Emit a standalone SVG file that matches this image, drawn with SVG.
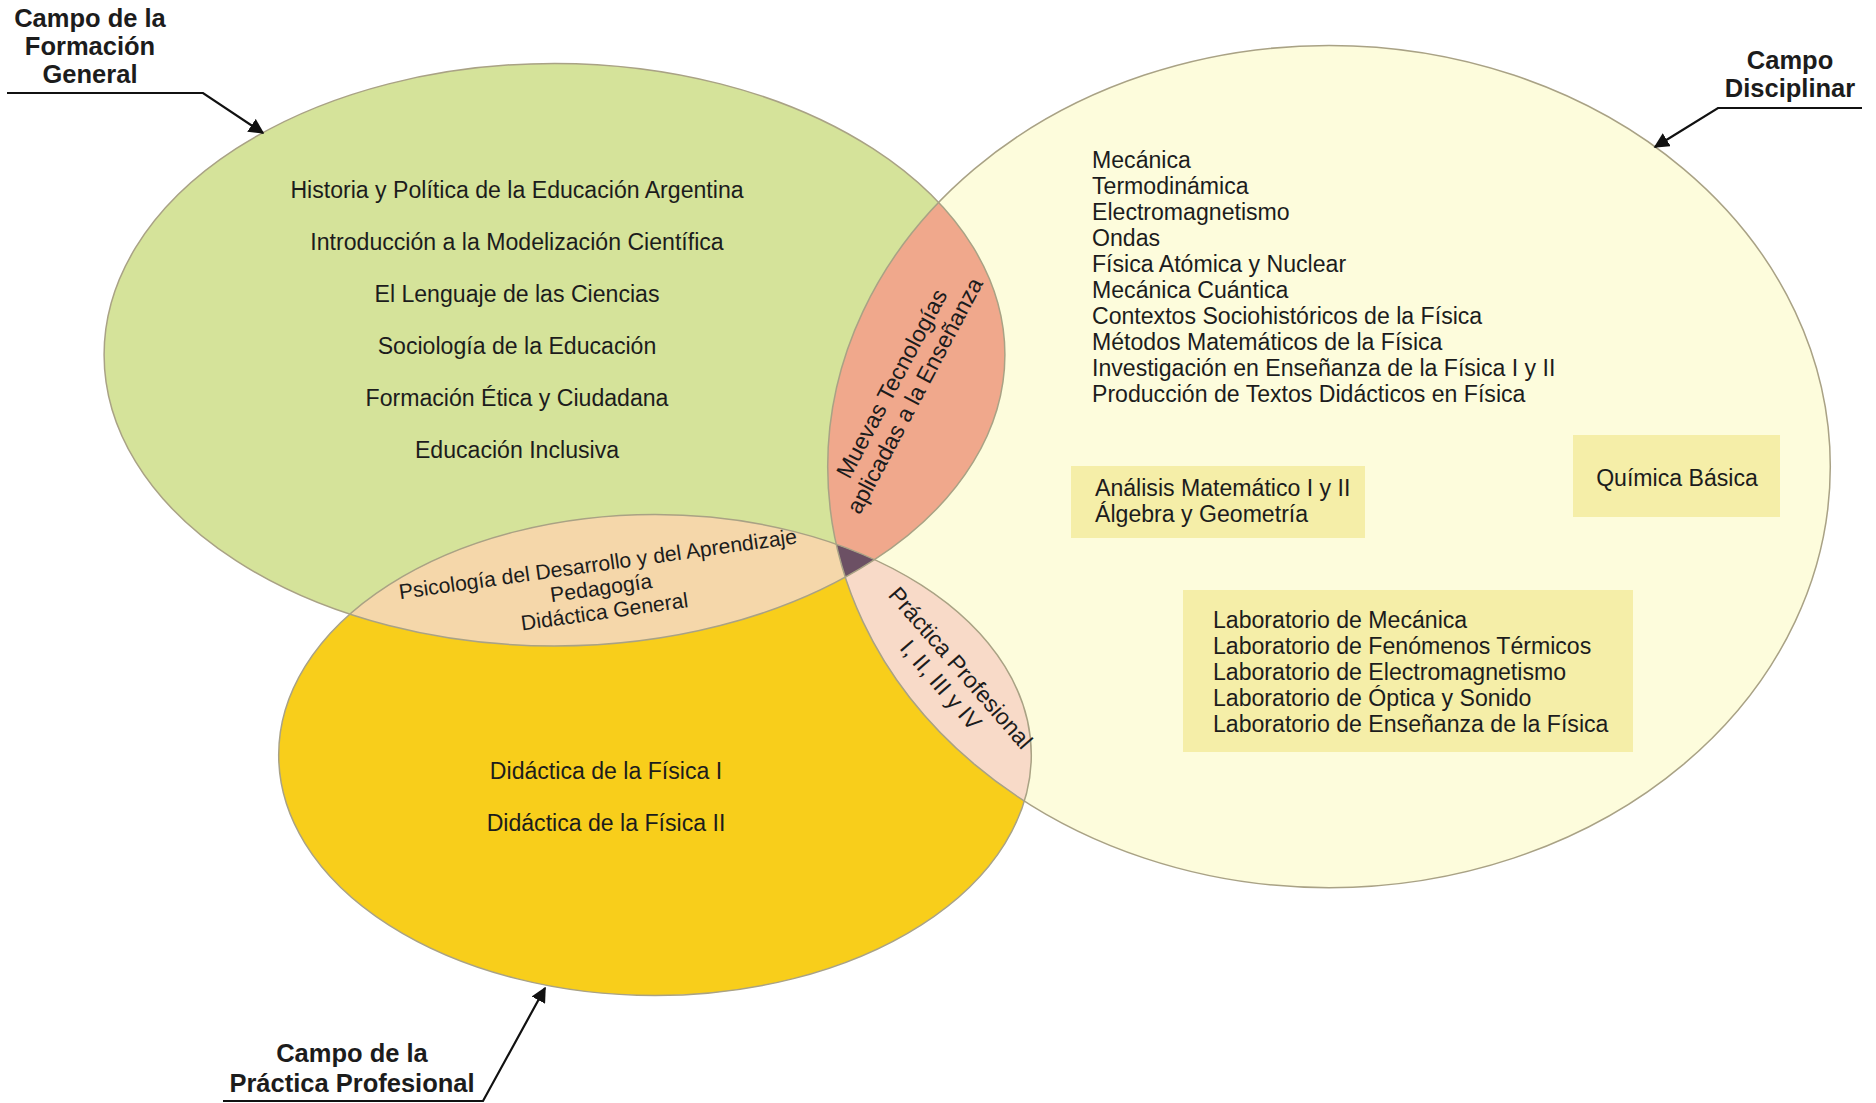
<svg xmlns="http://www.w3.org/2000/svg" width="1876" height="1103" viewBox="0 0 1876 1103">
<defs>
<style>
text{font-family:"Liberation Sans",Arial,sans-serif;fill:#1c1c1c;}
.t{font-size:23.1px;}
.ts{font-size:21.2px;}
.lbl{font-size:25.5px;font-weight:bold;fill:#111;}
.mid{text-anchor:middle;}
.edge{fill:none;stroke:#a9a285;stroke-width:1.5;}
.box{fill:#f5eea8;}
.conn{fill:none;stroke:#111;stroke-width:2.2;}
</style>
<marker id="ah" viewBox="0 0 10 10" refX="9" refY="5" markerWidth="7" markerHeight="7" markerUnits="strokeWidth" orient="auto">
<path d="M0,0 L10,5 L0,10 z" fill="#111"/>
</marker>
<ellipse id="eG" cx="554.5" cy="354.7" rx="450.4" ry="291.3"/>
<ellipse id="eD" cx="1329" cy="466.6" rx="501.3" ry="421.1"/>
<ellipse id="eP" cx="655" cy="755" rx="376.3" ry="240.5"/>
<clipPath id="cG"><use href="#eG"/></clipPath>
<clipPath id="cD"><use href="#eD"/></clipPath>
<clipPath id="cP"><use href="#eP"/></clipPath>
</defs>
<rect width="1876" height="1103" fill="#ffffff"/>

<g id="campo-disciplinar">
<use href="#eD" fill="#fdfcdc"/>
</g>
<g id="campo-formacion-general">
<use href="#eG" fill="#d5e39a"/>
</g>
<g id="campo-practica-profesional">
<use href="#eP" fill="#f8ce1b"/>
</g>
<g id="interseccion-general-disciplinar">
<use href="#eD" fill="#f0a88c" clip-path="url(#cG)"/>
</g>
<g id="interseccion-general-practica">
<use href="#eP" fill="#f5d7aa" clip-path="url(#cG)"/>
</g>
<g id="interseccion-practica-disciplinar">
<use href="#eP" fill="#f8dac8" clip-path="url(#cD)"/>
</g>
<g id="interseccion-triple">
<g clip-path="url(#cD)"><use href="#eP" fill="#6c5064" clip-path="url(#cG)"/></g>
</g>
<g id="bordes">
<use href="#eG" class="edge"/>
<use href="#eD" class="edge"/>
<use href="#eP" class="edge"/>
</g>

<g id="texto-formacion-general" class="t mid">
<text x="517" y="198">Historia y Política de la Educación Argentina</text>
<text x="517" y="250">Introducción a la Modelización Científica</text>
<text x="517" y="302">El Lenguaje de las Ciencias</text>
<text x="517" y="354">Sociología de la Educación</text>
<text x="517" y="406">Formación Ética y Ciudadana</text>
<text x="517" y="458">Educación Inclusiva</text>
</g>

<g id="texto-disciplinar" class="t">
<text x="1092" y="168">Mecánica</text>
<text x="1092" y="194">Termodinámica</text>
<text x="1092" y="220">Electromagnetismo</text>
<text x="1092" y="246">Ondas</text>
<text x="1092" y="272">Física Atómica y Nuclear</text>
<text x="1092" y="298">Mecánica Cuántica</text>
<text x="1092" y="324">Contextos Sociohistóricos de la Física</text>
<text x="1092" y="350">Métodos Matemáticos de la Física</text>
<text x="1092" y="376">Investigación en Enseñanza de la Física I y II</text>
<text x="1092" y="402">Producción de Textos Didácticos en Física</text>
</g>

<g id="caja-matematica">
<rect class="box" x="1071" y="466" width="294" height="72"/>
<text class="t" x="1095" y="496">Análisis Matemático I y II</text>
<text class="t" x="1095" y="522">Álgebra y Geometría</text>
</g>

<g id="caja-quimica">
<rect class="box" x="1573" y="435" width="207" height="82"/>
<text class="t mid" x="1677" y="486">Química Básica</text>
</g>

<g id="caja-laboratorios">
<rect class="box" x="1183" y="590" width="450" height="162"/>
<text class="t" x="1213" y="628">Laboratorio de Mecánica</text>
<text class="t" x="1213" y="654">Laboratorio de Fenómenos Térmicos</text>
<text class="t" x="1213" y="680">Laboratorio de Electromagnetismo</text>
<text class="t" x="1213" y="706">Laboratorio de Óptica y Sonido</text>
<text class="t" x="1213" y="732">Laboratorio de Enseñanza de la Física</text>
</g>

<g id="texto-practica" class="t mid">
<text x="606" y="779">Didáctica de la Física I</text>
<text x="606" y="831">Didáctica de la Física II</text>
</g>

<g id="texto-tecnologias" class="t mid" transform="rotate(-62 904 390)">
<text x="904" y="384">Muevas Tecnologías</text>
<text x="904" y="410">aplicadas a la Enseñanza</text>
</g>

<g id="texto-general-practica" class="ts mid" transform="rotate(-8 602 594)">
<text x="602" y="571">Psicología del Desarrollo y del Aprendizaje</text>
<text x="602" y="595">Pedagogía</text>
<text x="602" y="619">Didáctica General</text>
</g>

<g id="texto-practica-profesional" class="t mid" transform="rotate(49 950 677)">
<text x="950" y="671">Práctica Profesional</text>
<text x="950" y="697">I, II, III y IV</text>
</g>

<g id="etiqueta-formacion-general" class="lbl mid">
<text x="90" y="27">Campo de la</text>
<text x="90" y="55">Formación</text>
<text x="90" y="83">General</text>
</g>
<g id="etiqueta-disciplinar" class="lbl mid">
<text x="1790" y="69">Campo</text>
<text x="1790" y="97">Disciplinar</text>
</g>
<g id="etiqueta-practica-profesional" class="lbl mid">
<text x="352" y="1062">Campo de la</text>
<text x="352" y="1092">Práctica Profesional</text>
</g>

<g id="conectores">
<polyline class="conn" points="7,93 203,93 263,133" marker-end="url(#ah)"/>
<polyline class="conn" points="1862,108 1718,108 1655,147" marker-end="url(#ah)"/>
<polyline class="conn" points="223,1101 483,1101 545,988" marker-end="url(#ah)"/>
</g>
</svg>
